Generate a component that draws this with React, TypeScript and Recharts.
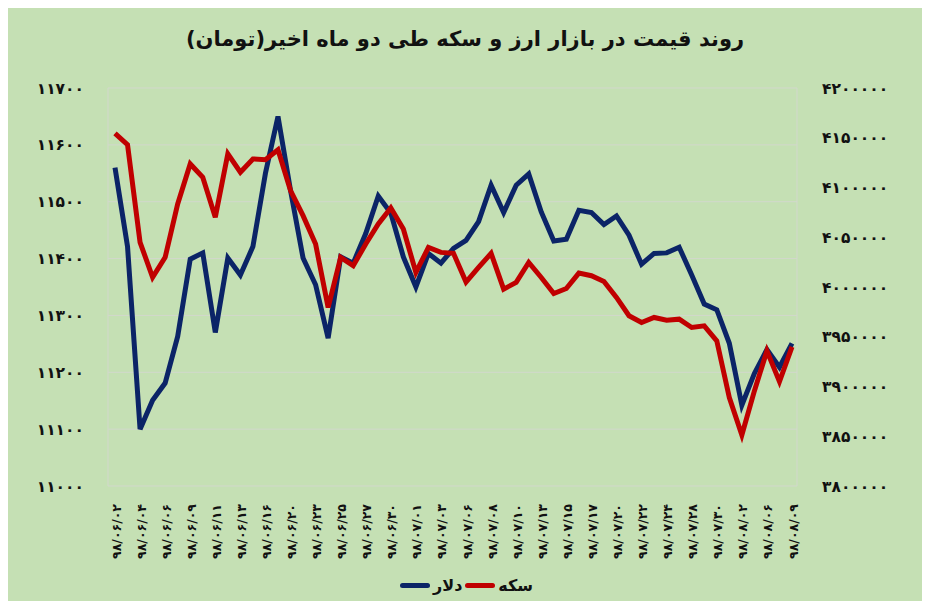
import React from "react";
import { LineChart, Line, XAxis, YAxis, CartesianGrid } from "recharts";

const dates = [
  "98/06/02","98/06/03","98/06/04","98/06/05","98/06/06","98/06/08","98/06/09","98/06/10",
  "98/06/11","98/06/12","98/06/13","98/06/14","98/06/16","98/06/17","98/06/20","98/06/21",
  "98/06/23","98/06/24","98/06/25","98/06/26","98/06/27","98/06/28","98/06/30","98/06/31",
  "98/07/01","98/07/02","98/07/03","98/07/04","98/07/06","98/07/07","98/07/08","98/07/09",
  "98/07/10","98/07/11","98/07/13","98/07/14","98/07/15","98/07/16","98/07/17","98/07/18",
  "98/07/20","98/07/21","98/07/22","98/07/23","98/07/24","98/07/27","98/07/28","98/07/29",
  "98/07/30","98/08/01","98/08/02","98/08/05","98/08/06","98/08/07","98/08/09",
];

const dollar = [
  11560, 11421, 11100, 11151, 11181, 11263, 11399, 11410,
  11270, 11401, 11371, 11421, 11550, 11650, 11520, 11401,
  11354, 11260, 11403, 11392, 11444, 11510, 11480, 11403,
  11350, 11409, 11392, 11418, 11432, 11465, 11529, 11481,
  11529, 11549, 11482, 11431, 11434, 11485, 11481, 11460,
  11475, 11441, 11390, 11409, 11410, 11420, 11371, 11320,
  11310, 11251, 11142, 11198, 11240, 11209, 11251,
];

const coin = [
  4154500, 4143100, 4044900, 4009700, 4029800, 4083500, 4123700, 4110300,
  4070000, 4133800, 4115300, 4128700, 4128000, 4138000, 4096900, 4071700,
  4043200, 3979400, 4029800, 4021400, 4043200, 4063400, 4079400, 4058300,
  4014600, 4039800, 4034800, 4033800, 4005000, 4019700, 4033800, 3997900,
  4004600, 4024700, 4009600, 3993500, 3998500, 4014000, 4011300, 4005600,
  3989500, 3971100, 3964300, 3969400, 3966700, 3967700, 3959300, 3961000,
  3945900, 3888800, 3851300, 3895600, 3935800, 3904900, 3939800,
];

const leftTicks = [11000, 11100, 11200, 11300, 11400, 11500, 11600, 11700];
const rightTicks = [3800000, 3850000, 3900000, 3950000, 4000000, 4050000, 4100000, 4150000, 4200000];

const title = "روند قیمت در بازار ارز و سکه طی دو ماه اخیر(تومان)";
const dollarName = "دلار";
const coinName = "سکه";

const data = dates.map((d, i) => ({ date: d, dollar: dollar[i], coin: coin[i] }));

const fa = (s: string | number) =>
  String(s).replace(/[0-9]/g, (c) => "۰۱۲۳۴۵۶۷۸۹"[Number(c)]);

const FONT = "'DejaVu Sans', sans-serif";
const BG = "#C5E0B4";
const BLUE = "#0b2467";
const RED = "#C00000";

const XTick = (props: any) => {
  const { x, y, payload } = props;
  return (
    <text
      x={0}
      y={0}
      transform={`translate(${x + 1},${y + 10}) rotate(-90)`}
      textAnchor="end"
      dominantBaseline="central"
      fontFamily={FONT}
      fontWeight="bold"
      fontSize={12.5}
      fill="#111"
    >
      {fa(payload.value)}
    </text>
  );
};

export default function App() {
  return (
    <div style={{ position: "relative", width: 930, height: 609, background: BG, margin: -8 }}>
      <div
        dir="rtl"
        style={{
          position: "absolute",
          top: 27,
          left: 0,
          width: 930,
          textAlign: "center",
          fontFamily: FONT,
          fontWeight: "bold",
          fontSize: 21,
          color: "#111",
        }}
      >
        {title}
      </div>
      <LineChart
        width={930}
        height={609}
        data={data}
        margin={{ top: 88, right: 0, bottom: 53, left: 0 }}
      >
        <CartesianGrid
          stroke="#d2d8cc"
          strokeWidth={1}
          yAxisId="left"
          verticalCoordinatesGenerator={(p: any) => [p.offset.left, p.offset.left + p.offset.width]}
        />
        <XAxis
          dataKey="date"
          interval={1}
          height={70}
          axisLine={false}
          tickLine={false}
          tick={<XTick />}
          padding={{ left: 7, right: 5 }}
        />
        <YAxis
          yAxisId="left"
          orientation="left"
          width={108}
          domain={[11000, 11700]}
          ticks={leftTicks}
          axisLine={false}
          tickLine={false}
          tickSize={0}
          tickMargin={24}
          tickFormatter={fa}
          tick={{ fontFamily: FONT, fontWeight: "bold", fontSize: 15.5, fill: "#111" }}
        />
        <YAxis
          yAxisId="right"
          orientation="right"
          width={133}
          domain={[3800000, 4200000]}
          ticks={rightTicks}
          axisLine={false}
          tickLine={false}
          tickSize={0}
          tickMargin={25}
          tickFormatter={fa}
          tick={{ fontFamily: FONT, fontWeight: "bold", fontSize: 15.5, fill: "#111" }}
        />
        <Line
          yAxisId="left"
          dataKey="dollar"
          name={dollarName}
          stroke={BLUE}
          strokeWidth={5}
          dot={false}
          isAnimationActive={false}
        />
        <Line
          yAxisId="right"
          dataKey="coin"
          name={coinName}
          stroke={RED}
          strokeWidth={5}
          dot={false}
          isAnimationActive={false}
        />
      </LineChart>
      <div
        style={{
          position: "absolute",
          top: 576,
          left: 400,
          display: "flex",
          alignItems: "center",
          fontFamily: FONT,
          fontWeight: "bold",
          fontSize: 16,
          color: "#111",
        }}
      >
        <span style={{ display: "inline-block", width: 30, height: 5, borderRadius: 3, background: BLUE }} />
        <span dir="rtl" style={{ margin: "0 3px" }}>{dollarName}</span>
        <span style={{ display: "inline-block", width: 30, height: 5, borderRadius: 3, background: RED }} />
        <span dir="rtl" style={{ margin: "0 3px" }}>{coinName}</span>
      </div>
    </div>
  );
}
